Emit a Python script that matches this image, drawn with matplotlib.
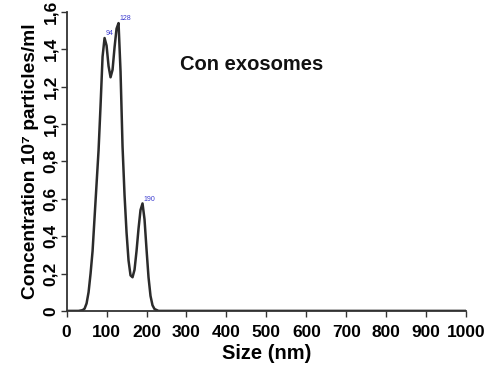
import matplotlib.pyplot as plt
from matplotlib.ticker import FuncFormatter

plt.rcParams["font.family"] = ["Liberation Sans", "DejaVu Sans"]

# size distribution (nm, 10^7 particles/ml)
size_nm = [0, 30, 40, 45, 50, 55, 60, 65, 70, 75, 80, 85, 90, 95, 100, 105,
           110, 115, 120, 125, 130, 135, 140, 145, 150, 155, 160, 165, 170,
           175, 180, 185, 190, 195, 200, 205, 210, 215, 220, 230, 1000]
conc = [0, 0, 0.004, 0.012, 0.04, 0.1, 0.2, 0.32, 0.5, 0.68, 0.86, 1.1,
        1.36, 1.46, 1.42, 1.31, 1.25, 1.29, 1.41, 1.51, 1.54, 1.28, 0.88,
        0.62, 0.42, 0.27, 0.19, 0.18, 0.22, 0.32, 0.44, 0.54, 0.575, 0.49,
        0.33, 0.18, 0.08, 0.03, 0.01, 0, 0]

peak_labels = ["94", "128", "190"]
peak_x = [94, 128, 190]
peak_y = [1.46, 1.54, 0.575]

x_ticks = list(range(0, 1001, 100))
y_ticks = [0, 0.2, 0.4, 0.6, 0.8, 1.0, 1.2, 1.4, 1.6]

fig = plt.figure(figsize=(4.97, 3.71), dpi=100)
ax = fig.add_axes([0.134, 0.162, 0.804, 0.806])

ax.plot(size_nm, conc, color="#2b2b2b", lw=1.8)

for lb, px, py in zip(peak_labels, peak_x, peak_y):
    ax.annotate(lb, (px, py), xytext=(1, 2), textcoords="offset points",
                fontsize=5, color="#3b3bd0")

ax.text(0.285, 0.805, "Con exosomes", transform=ax.transAxes, fontsize=14.5,
        fontweight="bold", color="#111111")

ax.set_xlim(0, 1000)
ax.set_ylim(0, 1.6)
ax.set_xticks(x_ticks)
ax.set_yticks(y_ticks)
ax.yaxis.set_major_formatter(FuncFormatter(
    lambda v, _: "0" if v == 0 else f"{v:.1f}".replace(".", ",")))

for s in ["top", "right"]:
    ax.spines[s].set_visible(False)
for s in ["left", "bottom"]:
    ax.spines[s].set_color("#333333")
    ax.spines[s].set_linewidth(1.3)

ax.tick_params(axis="both", direction="out", length=4, width=1, color="#333333")
ax.tick_params(axis="x", pad=6)
ax.tick_params(axis="y", pad=2)
for t in ax.get_xticklabels():
    t.set_fontweight("bold")
    t.set_fontsize(12.5)
for t in ax.get_yticklabels():
    t.set_fontweight("bold")
    t.set_fontsize(12.5)
    t.set_rotation(90)
    t.set_va("center")

ax.set_xlabel("Size (nm)", fontsize=14.5, fontweight="bold", labelpad=3)
ax.set_ylabel("Concentration 10⁷ particles/ml", fontsize=13.8,
              fontweight="bold", labelpad=3)

fig.savefig("out.png", dpi=100)
